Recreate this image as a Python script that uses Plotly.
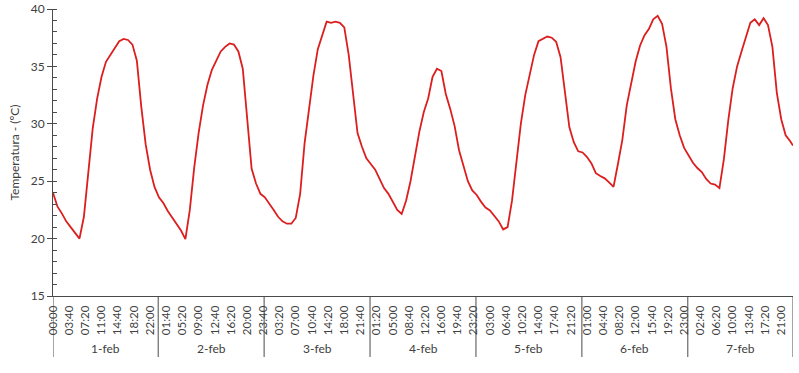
import plotly.graph_objects as go

# ---------------- data ----------------
days = ["1-feb", "2-feb", "3-feb", "4-feb", "5-feb", "6-feb", "7-feb"]

# hourly readings (00:00 ... 23:00), ºC
temp_1feb = [24.0, 22.8, 22.2, 21.5, 21.0, 20.5, 20.0, 21.9, 26.1, 29.6, 32.2, 34.1,
             35.4, 36.0, 36.7, 37.2, 37.4, 37.3, 36.9, 35.5, 31.5, 28.2, 26.0, 24.5]
temp_2feb = [23.6, 23.1, 22.4, 21.85, 21.3, 20.7, 19.95, 22.5, 26.2, 29.2, 31.6, 33.4,
             34.7, 35.5, 36.3, 36.7, 37.0, 36.9, 36.3, 34.8, 30.4, 26.1, 24.8, 23.9]
temp_3feb = [23.6, 23.1, 22.5, 21.9, 21.5, 21.3, 21.3, 21.8, 23.9, 28.3, 31.2, 34.2,
             36.5, 37.6, 38.9, 38.8, 38.9, 38.8, 38.4, 36.0, 32.4, 29.2, 28.0, 27.0]
temp_4feb = [26.5, 26.0, 25.2, 24.4, 23.9, 23.2, 22.5, 22.15, 23.3, 25.0, 27.2, 29.3,
             31.0, 32.2, 34.1, 34.8, 34.6, 32.6, 31.3, 29.8, 27.7, 26.3, 25.0, 24.2]
temp_5feb = [23.8, 23.2, 22.7, 22.45, 22.0, 21.5, 20.8, 21.0, 23.3, 26.7, 30.0, 32.5,
             34.4, 36.0, 37.2, 37.4, 37.6, 37.5, 37.15, 35.8, 32.7, 29.7, 28.4, 27.6]
temp_6feb = [27.5, 27.1, 26.55, 25.7, 25.45, 25.25, 24.9, 24.5, 26.5, 28.6, 31.6, 33.5,
             35.4, 36.8, 37.7, 38.25, 39.1, 39.4, 38.7, 36.7, 33.1, 30.4, 29.0, 27.9]
temp_7feb = [27.2, 26.6, 26.15, 25.8, 25.2, 24.8, 24.7, 24.4, 26.9, 30.3, 33.1, 35.0,
             36.3, 37.5, 38.8, 39.1, 38.6, 39.2, 38.6, 36.7, 32.7, 30.4, 29.0, 28.5]
last_reading_time = "23:40"   # last sample of 7-feb
last_reading_temp = 28.1

time_labels = ["00:00", "03:40", "07:20", "11:00", "14:40", "18:20", "22:00",
               "01:40", "05:20", "09:00", "12:40", "16:20", "20:00", "23:40",
               "03:20", "07:00", "10:40", "14:20", "18:00", "21:40",
               "01:20", "05:00", "08:40", "12:20", "16:00", "19:40", "23:20",
               "03:00", "06:40", "10:20", "14:00", "17:40", "21:20",
               "01:00", "04:40", "08:20", "12:00", "15:40", "19:20", "23:00",
               "02:40", "06:20", "10:00", "13:40", "17:20", "21:00"]

sample_minutes = 20          # logger sampling interval
label_every = 11             # one time label every 11 samples
# ---------------------------------------

per_day = 24 * 60 // sample_minutes          # 72 samples per day
all_days = [temp_1feb, temp_2feb, temp_3feb, temp_4feb, temp_5feb, temp_6feb, temp_7feb]

xs, ys = [], []
for d, vals in enumerate(all_days):
    for h, v in enumerate(vals):
        xs.append(d * per_day + h * 60 // sample_minutes)
        ys.append(v)
hh, mm = map(int, last_reading_time.split(":"))
xs.append(6 * per_day + (hh * 60 + mm) // sample_minutes)
ys.append(last_reading_temp)

n_total = per_day * len(days)
tickvals = [i * label_every for i in range(len(time_labels))]

AX = "#4a4a4a"
TXT = "#404040"
fig = go.Figure()
fig.add_trace(go.Scatter(x=xs, y=ys, mode="lines",
                         line=dict(color="#DC1E1E", width=1.8),
                         hoverinfo="skip"))

shapes = []
for d in range(len(days) + 1):
    xv = min(max(d * per_day - 0.5, 0), n_total - 1)
    shapes.append(dict(type="line", xref="x", yref="paper", x0=xv, x1=xv,
                       y0=0, y1=-0.2125, line=dict(color=AX, width=1)))

annotations = []
for d, name in enumerate(days):
    annotations.append(dict(x=d * per_day + (per_day - 1) / 2, y=-0.182,
                            xref="x", yref="paper", text=name, showarrow=False,
                            font=dict(family="Lato", size=12, color=TXT),
                            yanchor="middle", xanchor="center"))

fig.update_layout(
    width=799, height=373,
    margin=dict(l=53, r=6, t=9, b=77, autoexpand=False),
    plot_bgcolor="white", paper_bgcolor="white",
    showlegend=False,
    font=dict(family="Lato", size=12, color=TXT),
    shapes=shapes, annotations=annotations,
    xaxis=dict(range=[0, n_total - 1], tickmode="array", tickvals=tickvals,
               ticktext=time_labels, tickangle=-90, ticks="", automargin=False,
               ticklabelstandoff=4,
               showline=True, linecolor=AX, linewidth=1,
               showgrid=False, zeroline=False,
               tickfont=dict(family="Lato", size=11.5, color=TXT)),
    yaxis=dict(range=[15, 40], tick0=15, dtick=5, ticks="outside", ticklen=5,
               tickcolor=AX, showline=True, linecolor=AX, linewidth=1,
               showgrid=False, zeroline=False, automargin=False,
               minor=dict(dtick=1, ticks="inside", ticklen=4, tickcolor=AX, showgrid=False),
               tickfont=dict(family="Lato", size=12, color=TXT),
               title=dict(text="Temperatura - (ºC)", standoff=8,
                          font=dict(family="Lato", size=12, color=TXT))),
)

fig.write_html("out.html", config={"displayModeBar": False},
               post_script="document.body.style.margin='0';document.body.style.overflow='hidden';")
